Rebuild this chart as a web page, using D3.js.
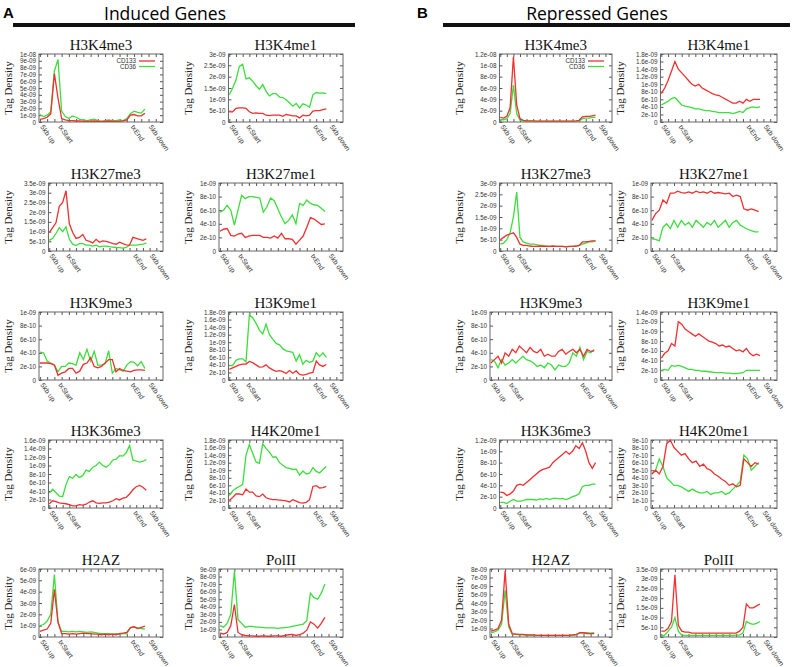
<!DOCTYPE html>
<html><head><meta charset="utf-8">
<script src="https://cdn.jsdelivr.net/npm/d3@7"></script>
<style>body{margin:0;background:#fff;} svg{display:block}</style>
</head><body><svg id="c" width="800" height="667"></svg>
<script>
// ---------- DATA (values in units of 1e-9 tag density) ----------
const UNIT = 1e-9;
const histones = ["H3K4me3","H3K4me1","H3K27me3","H3K27me1","H3K9me3","H3K9me1","H3K36me3","H4K20me1","H2AZ","PolII"];
const seriesNames = ["CD133","CD36"];
const xTickLabels = ["5kb up","txStart","txEnd","5kb down"];
const xTickPos = [0,10,50,60];
const bins = [0,2,4,6,8,10,12,14,16,18,20,22,24,26,28,30,32,34,36,38,40,42,44,46,48,50,52,54,56,58];

const yMaxInduced  = [10, 3, 3.5, 1, 1, 1.8, 1.6, 1.8, 6, 9];
const yStepInduced = [1, 0.5, 0.5, 0.2, 0.2, 0.2, 0.2, 0.2, 1, 1];
const yMaxRepressed  = [12, 1.8, 3, 1, 1, 1.4, 1.2, 0.9, 8, 3.5];
const yStepRepressed = [2, 0.2, 0.5, 0.2, 0.2, 0.2, 0.2, 0.1, 1, 0.5];

// Induced genes
const A_H3K4me3_CD133 = [0.4,0.5,0.7,1.2,7.1,3.5,0.5,0.3,0.2,0.2,0.15,0.15,0.1,0.1,0.1,0.15,0.1,0.1,0.1,0.15,0.1,0.1,0.1,0.15,0.3,1.0,1.1,0.9,0.9,1.3];
const A_H3K4me3_CD36  = [1.1,0.8,1.0,1.5,7.5,9.2,1.6,0.8,0.5,0.9,0.7,0.4,0.3,0.2,0.3,0.4,0.2,0.1,0.2,0.3,0.2,0.2,0.3,0.2,0.5,1.2,1.6,1.4,1.3,1.9];
const A_H3K4me1_CD133 = [0.45,0.45,0.6,0.62,0.62,0.6,0.45,0.38,0.4,0.38,0.38,0.3,0.28,0.3,0.3,0.3,0.25,0.33,0.3,0.27,0.27,0.18,0.3,0.27,0.3,0.48,0.5,0.5,0.55,0.58];
const A_H3K4me1_CD36  = [1.2,1.5,1.85,2.45,2.55,1.9,1.95,1.8,1.6,1.45,1.65,1.35,1.15,1.25,1.25,1.1,1.08,0.98,0.85,0.7,0.82,0.62,0.8,0.75,0.65,1.2,1.3,1.27,1.28,1.25];
const A_H3K27me3_CD133 = [0.95,1.2,1.45,2.3,2.5,3.1,1.4,0.95,0.65,0.7,0.85,0.55,0.5,0.42,0.6,0.45,0.52,0.5,0.45,0.38,0.35,0.45,0.38,0.32,0.3,0.7,0.65,0.6,0.55,0.62];
const A_H3K27me3_CD36  = [0.55,0.65,0.9,1.2,1.0,1.25,0.6,0.35,0.28,0.38,0.38,0.3,0.3,0.25,0.3,0.22,0.25,0.25,0.22,0.2,0.18,0.17,0.15,0.18,0.3,0.3,0.3,0.33,0.35,0.4];
const A_H3K27me1_CD133 = [0.29,0.32,0.33,0.23,0.22,0.25,0.26,0.2,0.22,0.23,0.23,0.23,0.2,0.2,0.19,0.22,0.19,0.26,0.18,0.18,0.17,0.1,0.16,0.22,0.35,0.49,0.47,0.43,0.39,0.4];
const A_H3K27me1_CD36  = [0.57,0.6,0.67,0.6,0.38,0.6,0.82,0.77,0.8,0.8,0.79,0.78,0.57,0.65,0.78,0.74,0.62,0.5,0.4,0.45,0.53,0.4,0.7,0.67,0.75,0.7,0.68,0.67,0.63,0.58];
const A_H3K9me3_CD133 = [0.25,0.25,0.25,0.24,0.22,0.07,0.1,0.12,0.17,0.17,0.1,0.13,0.23,0.25,0.33,0.2,0.18,0.2,0.25,0.3,0.3,0.12,0.17,0.14,0.13,0.12,0.14,0.15,0.15,0.14];
const A_H3K9me3_CD36  = [0.41,0.4,0.28,0.25,0.22,0.12,0.2,0.2,0.25,0.24,0.22,0.4,0.3,0.45,0.28,0.42,0.22,0.22,0.24,0.43,0.1,0.17,0.15,0.13,0.22,0.27,0.26,0.21,0.27,0.17];
const A_H3K9me1_CD133 = [0.28,0.32,0.36,0.4,0.42,0.42,0.49,0.46,0.4,0.34,0.35,0.4,0.32,0.27,0.23,0.25,0.22,0.17,0.25,0.18,0.24,0.15,0.13,0.15,0.18,0.2,0.5,0.4,0.36,0.41];
const A_H3K9me1_CD36  = [0.38,0.38,0.52,0.56,0.56,0.48,1.72,1.65,1.5,1.32,1.22,1.48,1.2,1.08,0.97,0.93,0.83,0.77,0.75,0.73,0.5,0.67,0.42,0.52,0.47,0.5,0.72,0.62,0.72,0.6];
const A_H3K36me3_CD133 = [0.1,0.17,0.15,0.12,0.11,0.1,0.08,0.05,0.05,0.08,0.07,0.09,0.14,0.17,0.12,0.11,0.12,0.12,0.14,0.17,0.22,0.19,0.23,0.25,0.33,0.43,0.5,0.53,0.49,0.42];
const A_H3K36me3_CD36  = [0.35,0.44,0.36,0.28,0.27,0.55,0.74,0.7,0.79,0.72,0.76,0.89,0.86,0.96,1.0,1.08,1.0,0.96,1.02,1.13,1.15,1.23,1.22,1.3,1.47,1.13,1.1,1.08,1.1,1.14];
const A_H4K20me1_CD133 = [0.2,0.28,0.37,0.37,0.35,0.5,0.42,0.42,0.32,0.3,0.37,0.27,0.24,0.22,0.22,0.21,0.2,0.19,0.16,0.22,0.18,0.14,0.13,0.15,0.22,0.57,0.59,0.53,0.54,0.57];
const A_H4K20me1_CD36  = [0.33,0.45,0.52,0.57,0.62,1.4,1.68,1.45,1.22,1.18,1.7,1.58,1.48,1.35,1.35,1.2,1.13,1.07,1.05,1.02,1.03,0.87,0.98,0.9,0.92,1.07,0.97,0.93,1.02,1.1];
const A_H2AZ_CD133 = [0.5,0.6,0.7,1.2,4.2,1.3,0.3,0.3,0.25,0.3,0.25,0.3,0.35,0.3,0.3,0.25,0.25,0.2,0.25,0.2,0.25,0.2,0.3,0.35,0.4,0.8,0.9,0.75,0.85,0.95];
const A_H2AZ_CD36  = [1.0,1.1,1.4,2.0,5.5,1.3,0.5,0.5,0.45,0.5,0.45,0.5,0.45,0.4,0.45,0.4,0.35,0.3,0.3,0.3,0.25,0.3,0.25,0.3,0.3,0.85,0.9,0.8,0.75,0.7];
const A_PolII_CD133 = [0.5,0.4,0.6,1.5,4.3,0.6,0.3,0.2,0.15,0.15,0.1,0.1,0.15,0.1,0.1,0.15,0.15,0.1,0.2,0.3,0.35,0.2,0.3,0.5,0.9,2.0,1.7,1.2,1.8,2.6];
const A_PolII_CD36  = [1.5,1.3,1.8,3.0,8.7,2.3,1.8,1.3,1.4,1.4,1.3,1.3,1.25,1.2,1.2,1.2,1.15,1.2,1.25,1.3,1.4,1.5,1.6,1.7,2.2,5.8,5.2,5.0,5.8,7.0];

// Repressed genes
const B_H3K4me3_CD133 = [0.8,0.7,1.0,2.5,11.5,3.0,0.6,0.3,0.2,0.2,0.2,0.15,0.15,0.15,0.15,0.15,0.15,0.15,0.15,0.15,0.15,0.15,0.15,0.2,0.3,0.9,1.0,1.0,1.1,1.2];
const B_H3K4me3_CD36  = [0.4,0.4,0.6,1.5,6.5,1.5,0.3,0.15,0.1,0.1,0.1,0.1,0.1,0.1,0.1,0.1,0.1,0.1,0.1,0.1,0.1,0.1,0.1,0.1,0.2,0.6,0.7,0.7,0.8,0.8];
const B_H3K4me1_CD133 = [0.75,0.9,1.1,1.35,1.6,1.4,1.3,1.2,1.1,1.0,0.95,1.0,0.9,0.85,0.8,0.75,0.72,0.7,0.65,0.6,0.55,0.5,0.5,0.55,0.5,0.6,0.55,0.6,0.6,0.6];
const B_H3K4me1_CD36  = [0.45,0.5,0.55,0.62,0.65,0.55,0.45,0.42,0.4,0.38,0.35,0.35,0.32,0.3,0.3,0.28,0.27,0.25,0.25,0.25,0.25,0.22,0.25,0.28,0.25,0.35,0.38,0.4,0.38,0.4];
const B_H3K27me3_CD133 = [0.5,0.6,0.7,0.75,0.8,0.6,0.3,0.25,0.25,0.22,0.2,0.2,0.22,0.2,0.2,0.2,0.22,0.2,0.2,0.2,0.18,0.2,0.2,0.22,0.25,0.4,0.4,0.42,0.45,0.45];
const B_H3K27me3_CD36  = [0.3,0.35,0.5,0.8,1.5,2.6,0.6,0.4,0.35,0.3,0.3,0.28,0.25,0.25,0.22,0.2,0.2,0.2,0.2,0.2,0.18,0.2,0.2,0.2,0.25,0.3,0.35,0.4,0.4,0.45];
const B_H3K27me1_CD133 = [0.45,0.55,0.6,0.75,0.7,0.85,0.85,0.88,0.86,0.85,0.87,0.85,0.88,0.86,0.87,0.85,0.88,0.85,0.86,0.85,0.84,0.85,0.8,0.82,0.8,0.62,0.6,0.62,0.6,0.58];
const B_H3K27me1_CD36  = [0.18,0.17,0.15,0.35,0.4,0.33,0.45,0.35,0.45,0.38,0.42,0.35,0.45,0.4,0.35,0.42,0.38,0.45,0.35,0.4,0.45,0.35,0.42,0.45,0.38,0.35,0.32,0.3,0.28,0.28];
const B_H3K9me3_CD133 = [0.25,0.3,0.35,0.25,0.4,0.35,0.45,0.4,0.5,0.45,0.4,0.48,0.42,0.4,0.45,0.35,0.38,0.35,0.35,0.42,0.45,0.38,0.42,0.45,0.4,0.45,0.35,0.45,0.42,0.43];
const B_H3K9me3_CD36  = [0.3,0.28,0.18,0.3,0.22,0.25,0.3,0.25,0.3,0.35,0.3,0.28,0.25,0.2,0.22,0.18,0.25,0.22,0.15,0.22,0.2,0.2,0.25,0.4,0.35,0.48,0.3,0.42,0.4,0.45];
const B_H3K9me1_CD133 = [0.45,0.55,0.6,0.75,0.7,1.2,1.15,1.05,1.0,0.95,0.9,0.95,0.9,0.85,0.8,0.78,0.75,0.7,0.72,0.68,0.7,0.65,0.6,0.62,0.58,0.65,0.55,0.5,0.53,0.5];
const B_H3K9me1_CD36  = [0.2,0.22,0.2,0.3,0.28,0.3,0.28,0.25,0.22,0.22,0.2,0.2,0.18,0.18,0.17,0.16,0.15,0.15,0.15,0.14,0.14,0.13,0.13,0.14,0.15,0.2,0.2,0.2,0.2,0.2];
const B_H3K36me3_CD133 = [0.28,0.27,0.22,0.25,0.3,0.4,0.42,0.4,0.45,0.5,0.55,0.6,0.65,0.68,0.7,0.72,0.8,0.85,0.9,0.95,1.0,0.95,1.0,1.1,1.05,1.15,1.0,0.8,0.7,0.8];
const B_H3K36me3_CD36  = [0.1,0.1,0.08,0.12,0.15,0.12,0.12,0.13,0.15,0.15,0.15,0.14,0.16,0.15,0.17,0.15,0.17,0.17,0.16,0.17,0.15,0.17,0.2,0.22,0.25,0.38,0.4,0.4,0.42,0.42];
const B_H4K20me1_CD133 = [0.45,0.5,0.45,0.55,0.85,0.9,0.8,0.75,0.7,0.72,0.65,0.6,0.62,0.55,0.58,0.52,0.5,0.45,0.42,0.38,0.35,0.3,0.32,0.28,0.3,0.65,0.6,0.55,0.6,0.58];
const B_H4K20me1_CD36  = [0.45,0.5,0.65,0.55,0.4,0.35,0.3,0.3,0.28,0.25,0.22,0.25,0.22,0.2,0.2,0.22,0.18,0.2,0.2,0.22,0.18,0.2,0.25,0.3,0.35,0.7,0.65,0.5,0.55,0.6];
const B_H2AZ_CD133 = [0.7,0.8,1.0,2.0,7.8,1.5,0.4,0.35,0.3,0.3,0.25,0.25,0.25,0.2,0.2,0.2,0.2,0.2,0.2,0.2,0.2,0.2,0.2,0.25,0.3,0.5,0.5,0.4,0.4,0.4];
const B_H2AZ_CD36  = [0.5,0.6,0.8,1.5,5.5,1.2,0.3,0.3,0.25,0.25,0.2,0.2,0.2,0.2,0.2,0.2,0.2,0.2,0.2,0.2,0.2,0.2,0.2,0.2,0.25,0.5,0.5,0.5,0.45,0.5];
const B_PolII_CD133 = [0.3,0.3,0.45,0.8,3.2,0.6,0.3,0.25,0.25,0.2,0.2,0.2,0.2,0.2,0.2,0.2,0.2,0.2,0.2,0.2,0.2,0.2,0.2,0.3,0.5,1.7,1.5,1.5,1.6,1.7];
const B_PolII_CD36  = [0.05,0.1,0.3,0.5,1.0,0.3,0.1,0.08,0.08,0.08,0.08,0.08,0.08,0.08,0.08,0.08,0.08,0.08,0.08,0.08,0.08,0.08,0.1,0.1,0.2,0.8,0.7,0.65,0.7,0.8];

// ---------- BUILD TABLES ----------
const groups = [
  {letter:"A", title:"Induced Genes", yMax:yMaxInduced, yStep:yStepInduced,
   cd133:[A_H3K4me3_CD133,A_H3K4me1_CD133,A_H3K27me3_CD133,A_H3K27me1_CD133,A_H3K9me3_CD133,A_H3K9me1_CD133,A_H3K36me3_CD133,A_H4K20me1_CD133,A_H2AZ_CD133,A_PolII_CD133],
   cd36:[A_H3K4me3_CD36,A_H3K4me1_CD36,A_H3K27me3_CD36,A_H3K27me1_CD36,A_H3K9me3_CD36,A_H3K9me1_CD36,A_H3K36me3_CD36,A_H4K20me1_CD36,A_H2AZ_CD36,A_PolII_CD36]},
  {letter:"B", title:"Repressed Genes", yMax:yMaxRepressed, yStep:yStepRepressed,
   cd133:[B_H3K4me3_CD133,B_H3K4me1_CD133,B_H3K27me3_CD133,B_H3K27me1_CD133,B_H3K9me3_CD133,B_H3K9me1_CD133,B_H3K36me3_CD133,B_H4K20me1_CD133,B_H2AZ_CD133,B_PolII_CD133],
   cd36:[B_H3K4me3_CD36,B_H3K4me1_CD36,B_H3K27me3_CD36,B_H3K27me1_CD36,B_H3K9me3_CD36,B_H3K9me1_CD36,B_H3K36me3_CD36,B_H4K20me1_CD36,B_H2AZ_CD36,B_PolII_CD36]}
];

// ---------- LAYOUT / STYLE ----------
const RED = "#f03030", GREEN = "#3ddd3d";
const TICKFONT = "'Liberation Sans', Arial, sans-serif";
const SERIF = "'Liberation Serif', 'Times New Roman', serif";
const TICKSIZE = 6.3;
const layout = {
  A:{colX:[0,180], colW:[163,163], headX:3, titleX:165, barX:[13,355]},
  B:{colX:[451,612], colW:[161,165], headX:417, titleX:597, barX:[443,790]}
};
const rowTop = [54,183,312,440,569];
const boxH = 68;

function fmt(v){
  if (Math.abs(v) < 1e-20) return "0";
  let e = Math.floor(Math.log10(v) + 1e-9);
  let m = Math.round(v / Math.pow(10, e) * 10) / 10;
  if (m >= 10) { m /= 10; e += 1; }
  const ms = (Math.abs(m - Math.round(m)) < 1e-9) ? String(Math.round(m)) : m.toFixed(1);
  return ms + "e" + (e < 0 ? "-" : "+") + String(Math.abs(e)).padStart(2, "0");
}

const svg = d3.select("#c");
svg.append("rect").attr("width",800).attr("height",667).attr("fill","#fff");
const meas = svg.append("text").attr("font-family",TICKFONT).attr("font-size",TICKSIZE).attr("visibility","hidden");
function tw(s){ meas.text(s); return meas.node().getComputedTextLength(); }

groups.forEach(grp => {
  const L = layout[grp.letter];
  // header
  svg.append("text").attr("x",L.headX).attr("y",18).text(grp.letter)
    .attr("font-family","'Liberation Sans', Arial, sans-serif").attr("font-weight","bold").attr("font-size",15);
  svg.append("text").attr("x",L.titleX).attr("y",20).attr("text-anchor","middle").text(grp.title)
    .attr("font-family","'Open Sans', 'Noto Sans', sans-serif").attr("font-size",17.5);
  svg.append("rect").attr("x",L.barX[0]).attr("y",23).attr("width",L.barX[1]-L.barX[0]).attr("height",4).attr("fill","#111");

  histones.forEach((name, k) => {
    const row = Math.floor(k/2), col = k % 2;
    const colX = L.colX[col];
    const boxRight = colX + L.colW[col];
    const top = rowTop[row], bottom = top + boxH;
    const nT = Math.round(grp.yMax[k] / grp.yStep[k]);
    const yTicks = d3.range(nT + 1).map(i => i * grp.yStep[k]);
    const labels = yTicks.map(t => fmt(t * UNIT));
    const maxW = d3.max(labels, tw);
    const boxLeft = colX + 10 + 1.8 * maxW;

    const x = d3.scaleLinear().domain([-0.5, 68]).range([boxLeft, boxRight]);
    const y = d3.scaleLinear().domain([0, grp.yMax[k]]).range([bottom, top]);
    const g = svg.append("g");

    // title
    g.append("text").attr("x",(boxLeft+boxRight)/2).attr("y",top-4).attr("text-anchor","middle")
      .attr("font-family",SERIF).attr("font-size",15).attr("fill","#111").text(name);
    // y title
    g.append("text").attr("transform",`translate(${colX+12},${(top+bottom)/2}) rotate(-90)`)
      .attr("text-anchor","middle").attr("font-family",SERIF).attr("font-size",11).attr("fill","#222").text("Tag Density");

    // left axis
    const ax = g.append("g").attr("transform",`translate(${boxLeft},0)`)
      .call(d3.axisLeft(y).tickValues(yTicks).tickFormat(t => fmt(t*UNIT)).tickSizeInner(-3).tickSizeOuter(0).tickPadding(3));
    ax.select(".domain").remove();
    ax.selectAll("text").attr("font-family",TICKFONT).attr("font-size",TICKSIZE).attr("fill","#333");
    ax.selectAll("line").attr("stroke","#555");
    // right mirror ticks
    const axr = g.append("g").attr("transform",`translate(${boxRight},0)`)
      .call(d3.axisRight(y).tickValues(yTicks).tickFormat("").tickSizeInner(-3).tickSizeOuter(0));
    axr.select(".domain").remove();
    axr.selectAll("line").attr("stroke","#555");
    // bottom / top minor ticks
    const axb = g.append("g").attr("transform",`translate(0,${bottom})`)
      .call(d3.axisBottom(x).tickValues(d3.range(0, 65, 4)).tickFormat("").tickSizeInner(-3).tickSizeOuter(0));
    axb.select(".domain").remove();
    axb.selectAll("line").attr("stroke","#555");
    const axt = g.append("g").attr("transform",`translate(0,${top})`)
      .call(d3.axisTop(x).tickValues(d3.range(0, 65, 4)).tickFormat("").tickSizeInner(-3).tickSizeOuter(0));
    axt.select(".domain").remove();
    axt.selectAll("line").attr("stroke","#555");
    // x labels rotated
    xTickPos.forEach((p, i) => {
      g.append("text").attr("transform",`translate(${x(p)},${bottom+5}) rotate(55)`)
        .attr("font-family",TICKFONT).attr("font-size",7).attr("fill","#333").text(xTickLabels[i]);
    });

    // box
    g.append("rect").attr("x",boxLeft).attr("y",top).attr("width",boxRight-boxLeft).attr("height",boxH)
      .attr("fill","none").attr("stroke","#666").attr("stroke-width",1);

    // lines
    const line = d3.line().x((d,i) => x(bins[i])).y(d => y(d));
    g.append("path").datum(grp.cd36[k]).attr("d",line).attr("fill","none").attr("stroke",GREEN).attr("stroke-width",1.3);
    g.append("path").datum(grp.cd133[k]).attr("d",line).attr("fill","none").attr("stroke",RED).attr("stroke-width",1.3);

    // legend
    if (k === 0) {
      [RED, GREEN].forEach((c, j) => {
        const ly = top + 7 + j*5.5;
        g.append("text").attr("x",boxRight-27).attr("y",ly+2.3).attr("text-anchor","end")
          .attr("font-family",TICKFONT).attr("font-size",TICKSIZE).attr("fill","#333").text(seriesNames[j]);
        g.append("line").attr("x1",boxRight-24).attr("x2",boxRight-8).attr("y1",ly).attr("y2",ly)
          .attr("stroke",c).attr("stroke-width",1.3);
      });
    }
  });
});
meas.remove();
</script>
</body></html>
